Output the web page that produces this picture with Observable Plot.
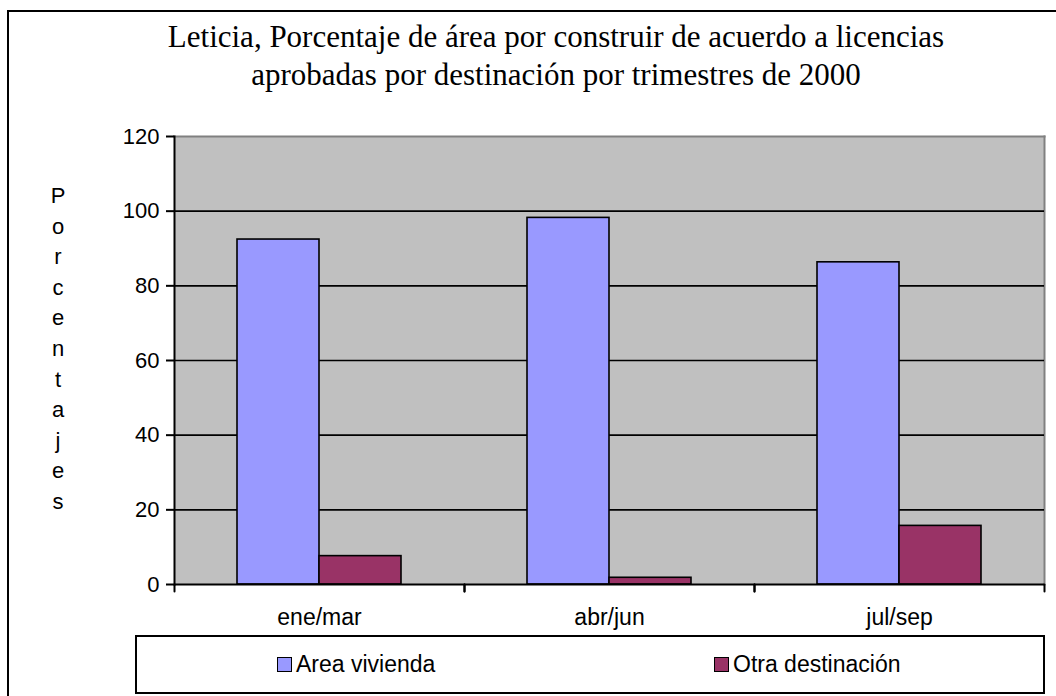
<!DOCTYPE html>
<html>
<head>
<meta charset="utf-8">
<script src="https://cdn.jsdelivr.net/npm/d3@7"></script>
<script src="https://cdn.jsdelivr.net/npm/@observablehq/plot@0.6"></script>
<style>
  html, body { margin: 0; padding: 0; background: #ffffff; }
  body { width: 1056px; height: 696px; position: relative; overflow: hidden; }
  #outer { position: absolute; left: 7px; top: 10px; width: 1070px; height: 720px; border: 2px solid #000; box-sizing: border-box; }
  #title { position: absolute; left: 0; top: 18px; width: 1112px; text-align: center; font-family: "Liberation Serif", "Times New Roman", serif; font-size: 31px; line-height: 38px; color: #000; }
  #ytitle { position: absolute; left: 38px; top: 181px; width: 40px; text-align: center; font-family: "Liberation Sans", Arial, sans-serif; font-size: 22px; line-height: 30.6px; color: #000; }
  #chart { position: absolute; left: 0; top: 0; }
  #legend { position: absolute; left: 135px; top: 635px; width: 910px; height: 59px; border: 2px solid #000; box-sizing: border-box; background: #fff; }
  .item { position: absolute; top: 0; height: 55px; display: flex; align-items: center; font-family: "Liberation Sans", Arial, sans-serif; font-size: 23px; color: #000; }
  .swatch { width: 13px; height: 13px; border: 1.5px solid #000; margin-right: 4px; }
</style>
</head>
<body>
<div id="outer"></div>
<div id="chart"></div>
<div id="title">Leticia, Porcentaje de área por construir de acuerdo a licencias<br>aprobadas por destinación por trimestres de 2000</div>
<div id="ytitle"></div>
<div id="legend"></div>
<script>
// ---- data ----
const quarters = ["ene/mar", "abr/jun", "jul/sep"];
const series = ["Area vivienda", "Otra destinación"];
const areaVivienda = [92.4, 98.2, 86.3];
const otraDestinacion = [7.6, 1.8, 15.7];
const yTicks = [0, 20, 40, 60, 80, 100, 120];
const seriesColors = ["#9999ff", "#993366"];
const yTitle = "Porcentajes";

const data = quarters.flatMap((q, i) => [
  {quarter: q, serie: series[0], value: areaVivienda[i]},
  {quarter: q, serie: series[1], value: otraDestinacion[i]}
]);

// a plain straight segment used for the category boundary ticks
const segment = {draw(context, l) { context.moveTo(0, 0); context.lineTo(0, -l); }};

const plot = Plot.plot({
  width: 1056,
  height: 696,
  marginLeft: 173,
  marginRight: 11,
  marginTop: 136,
  marginBottom: 112,
  style: {fontFamily: "'Liberation Sans', Arial, sans-serif", fontSize: "22px", color: "#000", background: "transparent", overflow: "visible"},
  fx: {domain: quarters, padding: 0, label: null, axis: null},
  x: {domain: series, paddingInner: 0, paddingOuter: 0.75, axis: null},
  y: {domain: [0, 120], axis: null},
  color: {domain: series, range: seriesColors},
  marks: [
    Plot.frame({fill: "#c0c0c0", stroke: null, facet: "super"}),
    Plot.frame({anchor: "top", stroke: "#808080", strokeWidth: 2, facet: "super"}),
    Plot.frame({anchor: "right", stroke: "#808080", strokeWidth: 2, facet: "super"}),
    Plot.gridY(yTicks.filter(t => t > 0 && t < 120), {stroke: "#000", strokeOpacity: 1, strokeWidth: 1.6}),
    Plot.barY(data, {fx: "quarter", x: "serie", y: "value", fill: "serie", stroke: "#000", strokeWidth: 1.6}),
    Plot.ruleY([0], {stroke: "#000", strokeWidth: 2}),
    Plot.frame({anchor: "left", stroke: "#000", strokeWidth: 2, facet: "super"}),
    Plot.vector([0], {frameAnchor: "bottom-left", length: 7, rotate: 180, anchor: "start", shape: segment, stroke: "#000", strokeWidth: 2}),
    Plot.vector([0], {frameAnchor: "bottom-right", length: 7, rotate: 180, anchor: "start", shape: segment, stroke: "#000", strokeWidth: 2}),
    Plot.axisY({ticks: yTicks, tickSize: 8, tickPadding: 7, label: null, tickFormat: d => String(d), strokeWidth: 2, fontSize: 22}),
    Plot.axisFx({anchor: "bottom", tickSize: 0, tickPadding: 24, label: null, fontSize: 23})
  ]
});
document.getElementById("chart").appendChild(plot);

// y title, stacked letters
document.getElementById("ytitle").innerHTML = yTitle.split("").join("<br>");

// legend
const legend = document.getElementById("legend");
const legendLeft = [140, 577];
series.forEach((s, i) => {
  const it = document.createElement("div");
  it.className = "item";
  it.style.left = legendLeft[i] + "px";
  const sw = document.createElement("div");
  sw.className = "swatch";
  sw.style.background = seriesColors[i];
  const tx = document.createElement("span");
  tx.textContent = s;
  it.appendChild(sw);
  it.appendChild(tx);
  legend.appendChild(it);
});
</script>
</body>
</html>
